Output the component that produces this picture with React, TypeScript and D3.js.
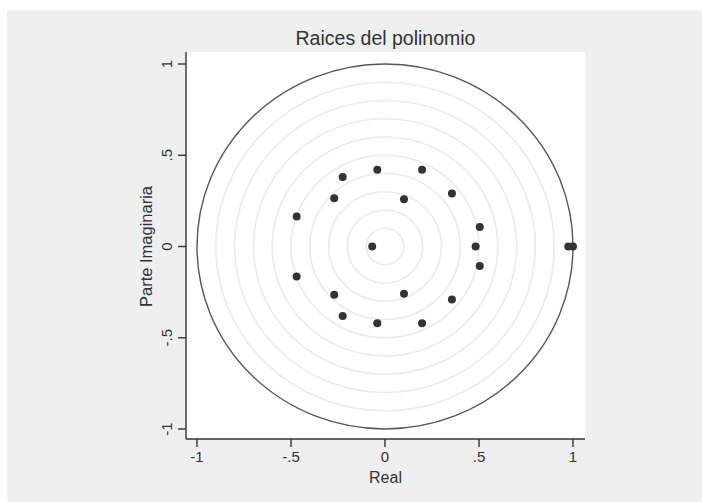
import React from "react";
import * as d3 from "d3";

const rootsRe: number[] = [-0.068, 0.482, 0.975, 1.0, -0.47, -0.47, -0.27, -0.27, -0.225, -0.225, -0.041, -0.041, 0.197, 0.197, 0.101, 0.101, 0.356, 0.356, 0.504, 0.504];
const rootsIm: number[] = [0, 0, 0, 0, 0.165, -0.165, 0.265, -0.265, 0.381, -0.381, 0.421, -0.421, 0.421, -0.421, 0.259, -0.259, 0.291, -0.291, 0.107, -0.107];
const ringRadii: number[] = [0.1, 0.2, 0.3, 0.4, 0.5, 0.6, 0.7, 0.8, 0.9];
const tickValues: number[] = [-1, -0.5, 0, 0.5, 1];
const tickLabels: string[] = ["-1", "-.5", "0", ".5", "1"];

const W = 702;
const H = 502;
const plotL = 186, plotR = 585, plotT = 52, plotB = 439;
const FONT = "'Liberation Sans', Arial, Helvetica, sans-serif";
const INK = "#333";

export default function App() {
  const x = d3.scaleLinear().domain([-1, 1]).range([197, 573]);
  const y = d3.scaleLinear().domain([-1, 1]).range([429, 64]);
  const cx = x(0), cy = y(0);
  return (
    <svg width={W} height={H} style={{ position: "absolute", left: 0, top: 0 }} fontFamily={FONT}>
      <rect x={0} y={0} width={W} height={H} fill="#fff" />
      <rect x={7} y={10} width={W - 7} height={H - 10} fill="#efefef" />
      <rect x={plotL} y={plotT} width={plotR - plotL} height={plotB - plotT} fill="#fff" />
      {ringRadii.map((r) => (
        <ellipse key={r} cx={cx} cy={cy} rx={x(r) - cx} ry={cy - y(r)} fill="none" stroke="#ebebeb" strokeWidth={1.7} />
      ))}
      <ellipse cx={cx} cy={cy} rx={x(1) - cx} ry={cy - y(1)} fill="none" stroke="#555" strokeWidth={1.4} />
      {rootsRe.map((re, i) => (
        <circle key={i} cx={x(re)} cy={y(rootsIm[i])} r={4} fill={INK} />
      ))}
      <line x1={plotL} x2={plotL} y1={plotT} y2={plotB} stroke={INK} strokeWidth={1.4} />
      <line x1={plotL} x2={plotR} y1={plotB} y2={plotB} stroke={INK} strokeWidth={1.4} />
      {tickValues.map((v, i) => (
        <g key={"y" + v}>
          <line x1={plotL - 8} x2={plotL} y1={y(v)} y2={y(v)} stroke={INK} strokeWidth={1.4} />
          <text transform={`translate(172,${y(v)}) rotate(-90)`} textAnchor="middle" fontSize={15} fill={INK}>{tickLabels[i]}</text>
        </g>
      ))}
      {tickValues.map((v, i) => (
        <g key={"x" + v}>
          <line x1={x(v)} x2={x(v)} y1={plotB} y2={plotB + 8} stroke={INK} strokeWidth={1.4} />
          <text x={x(v)} y={462} textAnchor="middle" fontSize={15} fill={INK}>{tickLabels[i]}</text>
        </g>
      ))}
      <text x={(plotL + plotR) / 2} y={483} textAnchor="middle" fontSize={16} fill={INK}>Real</text>
      <text transform={`translate(152,${cy}) rotate(-90)`} textAnchor="middle" fontSize={16.5} fill={INK}>Parte Imaginaria</text>
      <text x={(plotL + plotR) / 2} y={45} textAnchor="middle" fontSize={19.5} fill={INK}>Raices del polinomio</text>
    </svg>
  );
}
